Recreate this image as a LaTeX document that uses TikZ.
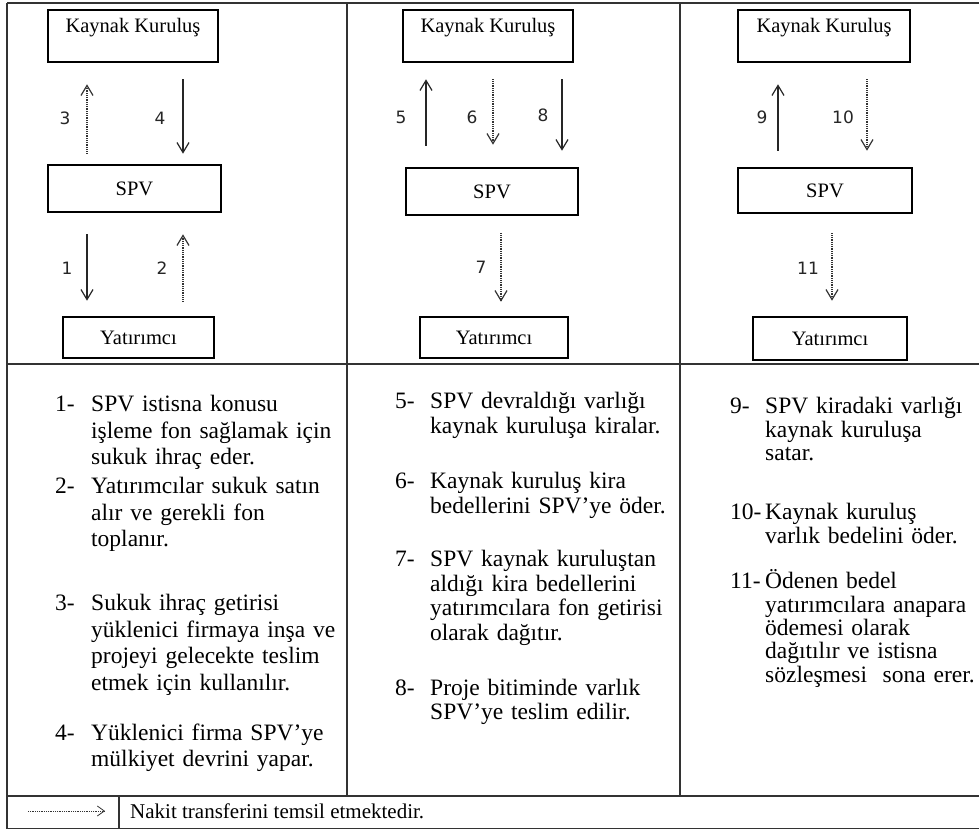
\documentclass[tikz,border=0pt]{standalone}
\usepackage{fontspec}
\setmainfont{Liberation Serif}
\newfontfamily\numfont{DejaVu Sans}
\usetikzlibrary{arrows.meta}

\begin{document}
\begin{tikzpicture}[x=1pt,y=1pt,
  grid/.style={line width=1.4pt, draw=black!80},
  actor/.style={draw=black, line width=2.6pt, inner sep=0pt},
  actorname/.style={font=\fontsize{20.5}{24}\selectfont, inner sep=0pt},
  flow/.style={line width=1.2pt, draw=black!85,
    -{Straight Barb[length=10pt,width=12pt,line width=1.2pt]}},
  cash/.style={flow, draw=black!80, dash pattern=on 1pt off 0.8pt},
  stepno/.style={font=\numfont\fontsize{17}{20}\selectfont, inner sep=0pt, text=black!85},
  itemno/.style={anchor=base west, inner sep=0pt, font=\fontsize{23.5}{26.5}\selectfont},
  itemtext/.style={anchor=base west, inner sep=0pt, align=left, text width=260pt},
  colA/.style={itemtext, font=\fontsize{23.5}{26.5}\selectfont},
  colB/.style={itemtext, font=\fontsize{23.5}{24.5}\selectfont},
  colC/.style={itemtext, font=\fontsize{23.5}{23.3}\selectfont},
]
\useasboundingbox (0,0) rectangle (979,830);
\fill[white] (0,0) rectangle (979,830);

% table rules
\draw[grid] (7,827) -- (979,827);
\draw[grid] (7,466) -- (979,466);
\draw[grid] (7,34) -- (979,34);
\draw[grid] (7,1.5) -- (979,1.5);
\draw[grid] (7,827) -- (7,1.5);
\draw[grid] (347,827) -- (347,34);
\draw[grid] (680,827) -- (680,34);
\draw[grid] (119,34) -- (119,1.5);

% ---- first phase: issuance and construction
\node[actor, minimum width=170, minimum height=52] (k1) at (133,794) {};
\node[actorname] (k1t) at (133,802) {Kaynak Kuruluş};
\node[actor, minimum width=173, minimum height=47] (s1) at (134.5,641.5) {};
\node[actorname] (s1t) at (134.5,641.5) {SPV};
\node[actor, minimum width=151, minimum height=41] (y1) at (138.5,492.5) {};
\node[actorname] (y1t) at (138.5,492.5) {Yatırımcı};

\draw[cash] ([xshift=-47.5pt,yshift=10pt]s1.north) -- ([xshift=-46pt,yshift=-21pt]k1.south);
\draw[flow] ([xshift=50pt,yshift=-16pt]k1.south) -- ([xshift=48.5pt,yshift=10pt]s1.north);
\draw[flow] ([xshift=-47.5pt,yshift=-21pt]s1.south) -- ([xshift=-51.5pt,yshift=15pt]y1.north);
\draw[cash] ([xshift=44.5pt,yshift=14pt]y1.north) -- ([xshift=48.5pt,yshift=-21pt]s1.south);

\node[stepno] (n3) at (65,712) {3};
\node[stepno] (n4) at (160,712) {4};
\node[stepno] (n1) at (67,562) {1};
\node[stepno] (n2) at (162,562) {2};

% ---- second phase: lease
\node[actor, minimum width=170, minimum height=52] (k2) at (488,794) {};
\node[actorname] (k2t) at (488,802) {Kaynak Kuruluş};
\node[actor, minimum width=172, minimum height=47] (s2) at (492,638.5) {};
\node[actorname] (s2t) at (492,638.5) {SPV};
\node[actor, minimum width=148, minimum height=41] (y2) at (494,492.5) {};
\node[actorname] (y2t) at (494,492.5) {Yatırımcı};

\draw[flow] ([xshift=-66pt,yshift=21pt]s2.north) -- ([xshift=-62pt,yshift=-16pt]k2.south);
\draw[cash] ([xshift=5pt,yshift=-16pt]k2.south) -- ([xshift=1pt,yshift=22pt]s2.north);
\draw[flow] ([xshift=74pt,yshift=-16pt]k2.south) -- ([xshift=70pt,yshift=16pt]s2.north);
\draw[cash] ([xshift=9pt,yshift=-17pt]s2.south) -- ([xshift=7pt,yshift=14pt]y2.north);

\node[stepno] (n5) at (401,713) {5};
\node[stepno] (n6) at (472,713) {6};
\node[stepno] (n8) at (543,715) {8};
\node[stepno] (n7) at (481,563) {7};

% ---- third phase: sale and redemption
\node[actor, minimum width=172, minimum height=52] (k3) at (824,794) {};
\node[actorname] (k3t) at (824,802) {Kaynak Kuruluş};
\node[actor, minimum width=174, minimum height=45] (s3) at (825,639.5) {};
\node[actorname] (s3t) at (825,639.5) {SPV};
\node[actor, minimum width=154, minimum height=43] (y3) at (830,491.5) {};
\node[actorname] (y3t) at (830,491.5) {Yatırımcı};

\draw[flow] ([xshift=-47pt,yshift=16pt]s3.north) -- ([xshift=-46pt,yshift=-21pt]k3.south);
\draw[cash] ([xshift=43pt,yshift=-16pt]k3.south) -- ([xshift=42pt,yshift=16pt]s3.north);
\draw[cash] ([xshift=7pt,yshift=-19pt]s3.south) -- ([xshift=2pt,yshift=15pt]y3.north);

\node[stepno] (n9) at (762,713) {9};
\node[stepno] (n10) at (843,713) {10};
\node[stepno] (n11) at (808,562) {11};

% ---- descriptions
\node[itemno] (d1n) at (55,418) {1-};
\node[colA] (d1) at (91,418) {SPV istisna konusu\\işleme fon sağlamak için\\sukuk ihraç eder.};
\node[itemno] (d2n) at (55,336) {2-};
\node[colA] (d2) at (91,336) {Yatırımcılar sukuk satın\\alır ve gerekli fon\\toplanır.};
\node[itemno] (d3n) at (55,219) {3-};
\node[colA] (d3) at (91,219) {Sukuk ihraç getirisi\\yüklenici firmaya inşa ve\\projeyi gelecekte teslim\\etmek için kullanılır.};
\node[itemno] (d4n) at (55,90) {4-};
\node[colA] (d4) at (91,90) {Yüklenici firma SPV’ye\\mülkiyet devrini yapar.};

\node[itemno] (d5n) at (395,421) {5-};
\node[colB] (d5) at (430,421) {SPV devraldığı varlığı\\kaynak kuruluşa kiralar.};
\node[itemno] (d6n) at (395,341) {6-};
\node[colB] (d6) at (430,341) {Kaynak kuruluş kira\\bedellerini SPV’ye öder.};
\node[itemno] (d7n) at (395,263) {7-};
\node[colB] (d7) at (430,263) {SPV kaynak kuruluştan\\aldığı kira bedellerini\\yatırımcılara fon getirisi\\olarak dağıtır.};
\node[itemno] (d8n) at (395,135) {8-};
\node[colB] (d8) at (430,135) {Proje bitiminde varlık\\SPV’ye teslim edilir.};

\node[itemno] (d9n) at (730,416) {9-};
\node[colC] (d9) at (765,416) {SPV kiradaki varlığı\\kaynak kuruluşa\\satar.};
\node[itemno] (d10n) at (730,310) {10-};
\node[colC] (d10) at (765,310) {Kaynak kuruluş\\varlık bedelini öder.};
\node[itemno] (d11n) at (730,241) {11-};
\node[colC] (d11) at (765,241) {Ödenen bedel\\yatırımcılara anapara\\ödemesi olarak\\dağıtılır ve istisna\\sözleşmesi\ \ sona erer.};

% ---- legend
\coordinate (legA) at (28,19);
\coordinate (legB) at (105,19);
\draw[cash, line width=0.8pt, -{Straight Barb[length=7pt,width=10pt,line width=0.8pt]}] (legA) -- (legB);
\node[anchor=base west, inner sep=0pt, font=\fontsize{21}{24}\selectfont] (legT) at (130,12) {Nakit transferini temsil etmektedir.};
\end{tikzpicture}
\end{document}
